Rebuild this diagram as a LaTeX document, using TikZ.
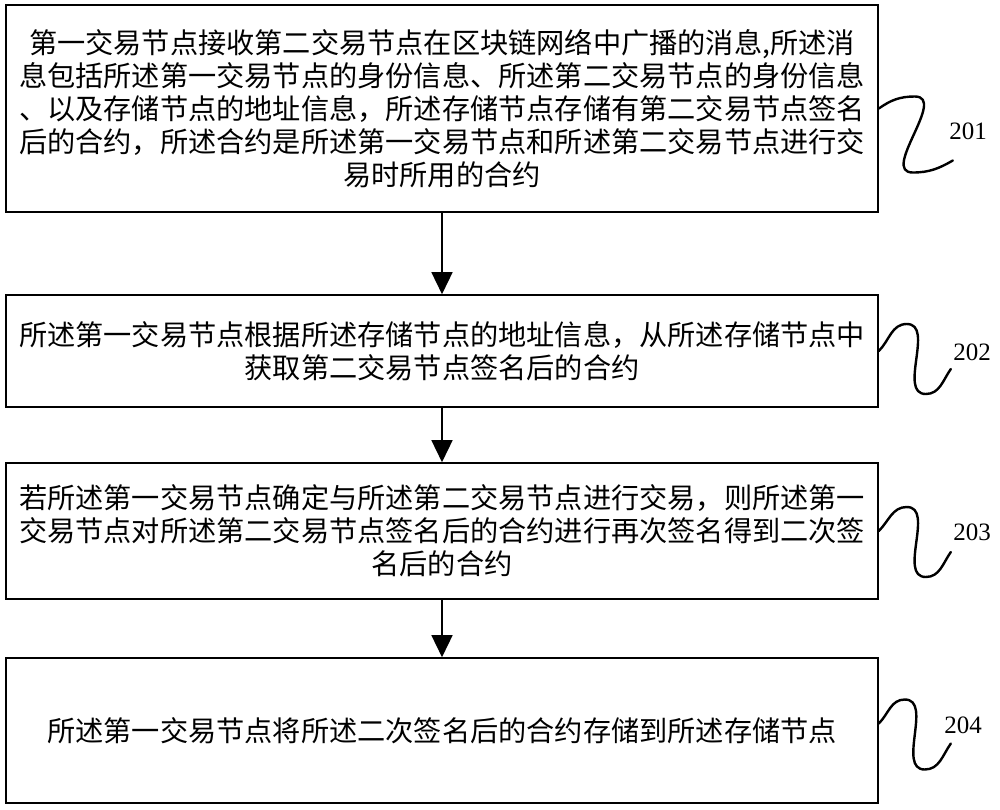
\documentclass[tikz,border=0pt]{standalone}
\usepackage{fontspec}
\setmainfont{Noto Sans CJK SC}
\newfontfamily\numfont{Liberation Serif}
\usetikzlibrary{arrows.meta}
\tikzset{
  stepbox/.style={draw=black, line width=1.6pt, rectangle, minimum width=872pt, align=center, inner sep=0pt,
    font=\fontsize{28.2}{33}\selectfont},
  flow/.style={line width=1.5pt, -{Triangle[length=22pt,width=21pt]}},
  squig/.style={line width=2.4pt, line cap=round},
  numlabel/.style={font=\numfont\fontsize{25}{30}\selectfont, inner sep=0pt}
}
\begin{document}
\begin{tikzpicture}[x=1pt,y=1pt]
\useasboundingbox (0,0) rectangle (1000,-809);
\node[stepbox, minimum height=207pt] (b1) at (442,-108.5) {第一交易节点接收第二交易节点在区块链网络中广播的消息,所述消\\息包括所述第一交易节点的身份信息、所述第二交易节点的身份信息\\、以及存储节点的地址信息，所述存储节点存储有第二交易节点签名\\后的合约，所述合约是所述第一交易节点和所述第二交易节点进行交\\易时所用的合约};
\node[stepbox, minimum height=112pt] (b2) at (442,-351) {所述第一交易节点根据所述存储节点的地址信息，从所述存储节点中\\获取第二交易节点签名后的合约};
\node[stepbox, minimum height=136pt] (b3) at (442,-531) {若所述第一交易节点确定与所述第二交易节点进行交易，则所述第一\\交易节点对所述第二交易节点签名后的合约进行再次签名得到二次签\\名后的合约};
\node[stepbox, minimum height=145pt] (b4) at (442,-730.5) {所述第一交易节点将所述二次签名后的合约存储到所述存储节点};
\draw[flow] (b1.south) -- (b2.north);
\draw[flow] (b2.south) -- (b3.north);
\draw[flow] (b3.south) -- (b4.north);
% squiggles
\coordinate (s4) at ([yshift=7pt]b4.east);
\draw[squig] (b1.east) to[out=35,in=180] ++(36,12) to[out=0,in=180,looseness=1.1] ++(-2,-76) to[out=0,in=210] ++(40,12);
\draw[squig] (b2.east) to[out=45,in=180] ++(28,27) to[out=0,in=180] ++(19,-70) to[out=0,in=235] ++(25,25);
\draw[squig] (b3.east) to[out=45,in=180] ++(28,24) to[out=0,in=180] ++(19,-70) to[out=0,in=235] ++(25,25);
\draw[squig] (s4) to[out=45,in=180] ++(26,24) to[out=0,in=180] ++(20,-70) to[out=0,in=235] ++(26,26);
\node[numlabel] (n1) at (968,-131) {201};
\node[numlabel] (n2) at (972,-352) {202};
\node[numlabel] (n3) at (972,-532) {203};
\node[numlabel] (n4) at (963,-725) {204};
\end{tikzpicture}
\end{document}
